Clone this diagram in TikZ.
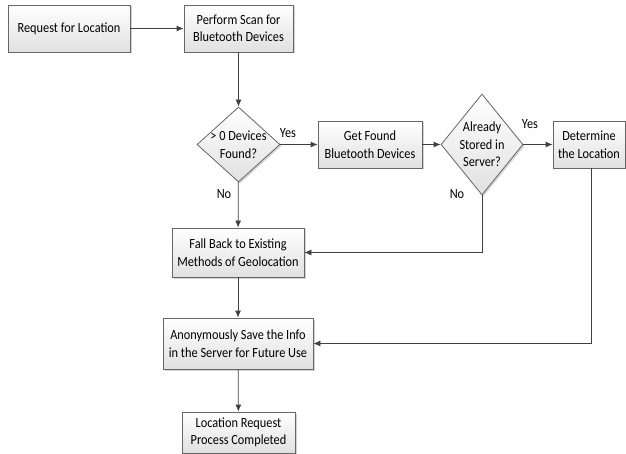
\documentclass[tikz,border=0pt]{standalone}
\usepackage{fontspec}
\setmainfont{Carlito}[FakeStretch=0.88]
\usepackage{tikz}
\usetikzlibrary{shapes.geometric, arrows.meta, shadows}

\begin{document}
\begin{tikzpicture}[x=1pt, y=-1pt, font=\fontsize{14}{17.5}\selectfont,
    procbox/.style={draw=black!60, line width=0.8pt, top color=white, bottom color=black!12,
      drop shadow={shadow xshift=1.5pt, shadow yshift=-1.5pt, opacity=0.35},
      align=center, inner sep=0pt},
    decision/.style={diamond, draw=black!60, line width=0.8pt, top color=white, bottom color=black!12,
      drop shadow={shadow xshift=1.5pt, shadow yshift=-1.5pt, opacity=0.35}, inner sep=0pt},
    flow/.style={draw=black!75, line width=0.8pt, -{Latex[length=7pt, width=6pt]}},
    lbl/.style={inner sep=0pt}]
  \definecolor{linegray}{HTML}{404040}

  \useasboundingbox (0,0) rectangle (626,454);

  % boxes
  \node[procbox, minimum width=122, minimum height=47] (request) at (69,28.5) {Request for Location};
  \node[procbox, minimum width=109, minimum height=47] (scan) at (238.5,28.5) {Perform Scan for\\Bluetooth Devices};
  \node[decision, minimum width=83, minimum height=75] (found) at (238.5,144.5) {};
  \node[align=center] (foundtxt) at (238.5,144.5) {> 0 Devices\\Found?};
  \node[procbox, minimum width=104, minimum height=47] (getdev) at (370,144.5) {Get Found\\Bluetooth Devices};
  \node[decision, minimum width=82, minimum height=101] (stored) at (482,144.5) {};
  \node[align=center] (storedtxt) at (482,144.5) {Already\\Stored in\\Server?};
  \node[procbox, minimum width=72, minimum height=47] (locate) at (589,144.5) {Determine\\the Location};
  \node[procbox, minimum width=132, minimum height=49] (fallback) at (238,252.5) {Fall Back to Existing\\Methods of Geolocation};
  \node[procbox, minimum width=150, minimum height=51] (save) at (238,343.5) {Anonymously Save the Info\\in the Server for Future Use};
  \node[procbox, minimum width=113, minimum height=41] (done) at (238.5,432.5) {Location Request\\Process Completed};

  % connectors
  \draw[flow] (request) -- (scan);
  \draw[flow] (scan) -- (found);
  \draw[flow] (found) -- (getdev);
  \draw[flow] (getdev) -- (stored);
  \draw[flow] (stored) -- (locate);
  \draw[flow] (found) -- (fallback);
  \draw[flow] (stored.south) |- (fallback.east);
  \draw[flow] (fallback) -- (save);
  \draw[flow] (locate.south -| 591,0) |- (save.east);
  \draw[flow] (save) -- (done);

  % labels
  \node[lbl] (yes1) at (288,133) {Yes};
  \node[lbl] (no1) at (224,194) {No};
  \node[lbl] (yes2) at (530,124) {Yes};
  \node[lbl] (no2) at (457,194) {No};
\end{tikzpicture}
\end{document}
